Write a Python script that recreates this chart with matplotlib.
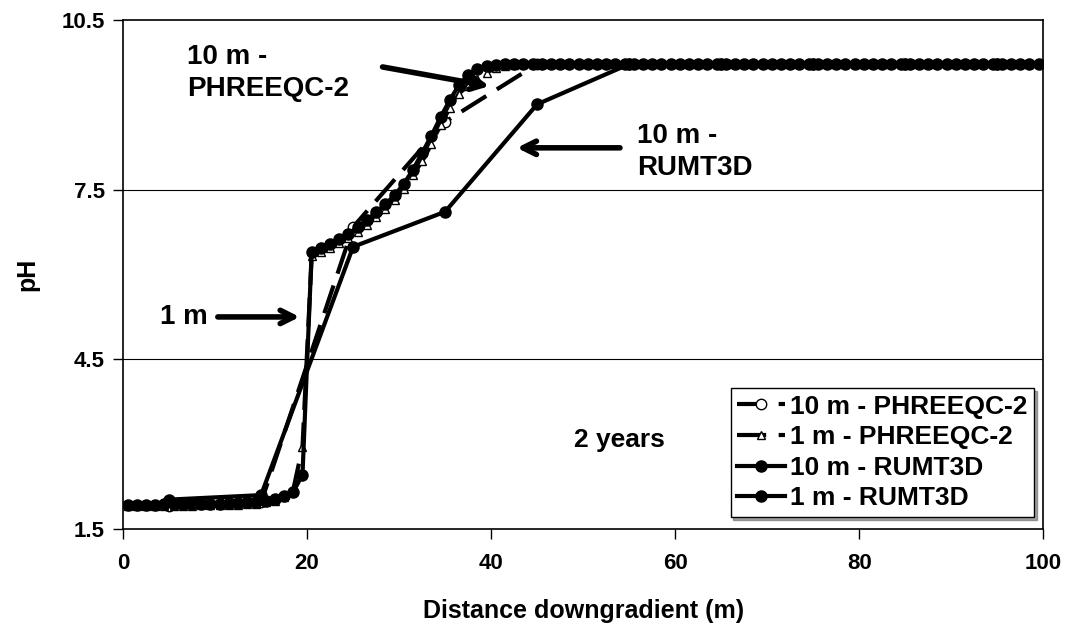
import numpy as np
import matplotlib.pyplot as plt

plt.rcParams['font.family'] = ['Liberation Sans', 'DejaVu Sans']
plt.rcParams['font.weight'] = 'bold'

# cell centres (m)
x_10m = [5, 15, 25, 35, 45, 55, 65, 75, 85, 95]
x_1m = np.arange(0.5, 100, 1.0)

# pH
ph_10m_phreeqc = [1.90, 1.97, 6.84, 8.70, 9.72, 9.72, 9.72, 9.72, 9.72, 9.72]
ph_10m_rumt3d = [2.02, 2.10, 6.49, 7.11, 9.01, 9.72, 9.72, 9.72, 9.72, 9.72]

ph_1m_phreeqc = [
    1.90, 1.90, 1.90, 1.90, 1.91, 1.91, 1.91, 1.91, 1.92, 1.92,
    1.92, 1.93, 1.93, 1.94, 1.95, 1.97, 2.00, 2.06, 2.20, 2.95,
    6.33, 6.40, 6.47, 6.55, 6.65, 6.76, 6.88, 7.01, 7.15, 7.32,
    7.52, 7.76, 8.00, 8.30, 8.65, 8.94, 9.20, 9.34, 9.45, 9.57,
    9.65, 9.69, 9.71, 9.72, 9.72, 9.72, 9.72, 9.72, 9.72, 9.72,
    9.72, 9.72, 9.72, 9.72, 9.72, 9.72, 9.72, 9.72, 9.72, 9.72,
    9.72, 9.72, 9.72, 9.72, 9.72, 9.72, 9.72, 9.72, 9.72, 9.72,
    9.72, 9.72, 9.72, 9.72, 9.72, 9.72, 9.72, 9.72, 9.72, 9.72,
    9.72, 9.72, 9.72, 9.72, 9.72, 9.72, 9.72, 9.72, 9.72, 9.72,
    9.72, 9.72, 9.72, 9.72, 9.72, 9.72, 9.72, 9.72, 9.72, 9.72,
]
ph_1m_rumt3d = [
    1.93, 1.93, 1.93, 1.93, 1.94, 1.94, 1.94, 1.94, 1.95, 1.95,
    1.95, 1.96, 1.96, 1.97, 1.98, 2.00, 2.03, 2.08, 2.16, 2.46,
    6.40, 6.47, 6.54, 6.62, 6.72, 6.84, 6.96, 7.10, 7.24, 7.40,
    7.60, 7.85, 8.15, 8.45, 8.78, 9.08, 9.35, 9.53, 9.63, 9.69,
    9.71, 9.72, 9.72, 9.72, 9.72, 9.72, 9.72, 9.72, 9.72, 9.72,
    9.72, 9.72, 9.72, 9.72, 9.72, 9.72, 9.72, 9.72, 9.72, 9.72,
    9.72, 9.72, 9.72, 9.72, 9.72, 9.72, 9.72, 9.72, 9.72, 9.72,
    9.72, 9.72, 9.72, 9.72, 9.72, 9.72, 9.72, 9.72, 9.72, 9.72,
    9.72, 9.72, 9.72, 9.72, 9.72, 9.72, 9.72, 9.72, 9.72, 9.72,
    9.72, 9.72, 9.72, 9.72, 9.72, 9.72, 9.72, 9.72, 9.72, 9.72,
]

x_ticks = [0, 20, 40, 60, 80, 100]
y_ticks = [1.5, 4.5, 7.5, 10.5]

fig = plt.figure(figsize=(10.7, 6.37), dpi=100)
ax = fig.add_axes([0.115, 0.1695, 0.86, 0.7991])

for y in [4.5, 7.5]:
    ax.axhline(y, color='black', lw=0.8, zorder=1)

ax.plot(x_10m, ph_10m_phreeqc, color='black', lw=3, dashes=(7, 3),
        marker='o', ms=7.5, mfc='white', mec='black', mew=1,
        label='10 m - PHREEQC-2', zorder=3)
ax.plot(x_1m, ph_1m_phreeqc, color='black', lw=3, dashes=(7, 3),
        marker='^', ms=5.5, mfc='white', mec='black', mew=1,
        label='1 m - PHREEQC-2', zorder=3)
ax.plot(x_10m, ph_10m_rumt3d, color='black', lw=3, marker='o', ms=8,
        label='10 m - RUMT3D', zorder=4)
ax.plot(x_1m, ph_1m_rumt3d, color='black', lw=3, marker='o', ms=8,
        label='1 m - RUMT3D', zorder=4)

ax.set_xlim(0, 100)
ax.set_ylim(1.5, 10.5)
ax.set_xticks(x_ticks)
ax.set_yticks(y_ticks)
ax.set_yticklabels(['1.5', '4.5', '7.5', '10.5'])
ax.tick_params(direction='out', length=7, width=1, labelsize=16)
ax.tick_params(axis='x', pad=10)
ax.tick_params(axis='y', pad=6)
for s in ax.spines.values():
    s.set_linewidth(1.2)

ax.set_xlabel('Distance downgradient (m)', fontsize=18, fontweight='bold', labelpad=18)
ax.set_ylabel('pH', fontsize=18, fontweight='bold', labelpad=16)

# annotations
arrow = dict(arrowstyle='->', lw=4, color='black', mutation_scale=24, shrinkA=0, shrinkB=0)
ax.annotate('', xy=(39.8, 9.33), xytext=(28.2, 9.67), arrowprops=arrow)
ax.text(6.96, 9.57, '10 m -\nPHREEQC-2', fontsize=20, fontweight='bold',
        ha='left', va='center', linespacing=1.3)
ax.annotate('', xy=(42.8, 8.24), xytext=(54.0, 8.24), arrowprops=arrow)
ax.text(55.9, 8.16, '10 m -\nRUMT3D', fontsize=20, fontweight='bold',
        ha='left', va='center', linespacing=1.3)
ax.annotate('', xy=(19.2, 5.25), xytext=(10.3, 5.25), arrowprops=arrow)
ax.text(4.0, 5.25, '1 m', fontsize=20, fontweight='bold', ha='left', va='center')
ax.text(49.0, 3.07, '2 years', fontsize=19, fontweight='bold', ha='left', va='center')

leg = ax.legend(loc='lower right', bbox_to_anchor=(0.990, 0.0236), borderaxespad=0,
                fontsize=19, frameon=True, fancybox=False, shadow=True,
                numpoints=1, handlelength=1.8, handletextpad=0.2,
                labelspacing=0.25, borderpad=0.25)
leg.get_frame().set_edgecolor('black')
leg.get_frame().set_linewidth(1.0)

fig.savefig('out.png', dpi=100)
